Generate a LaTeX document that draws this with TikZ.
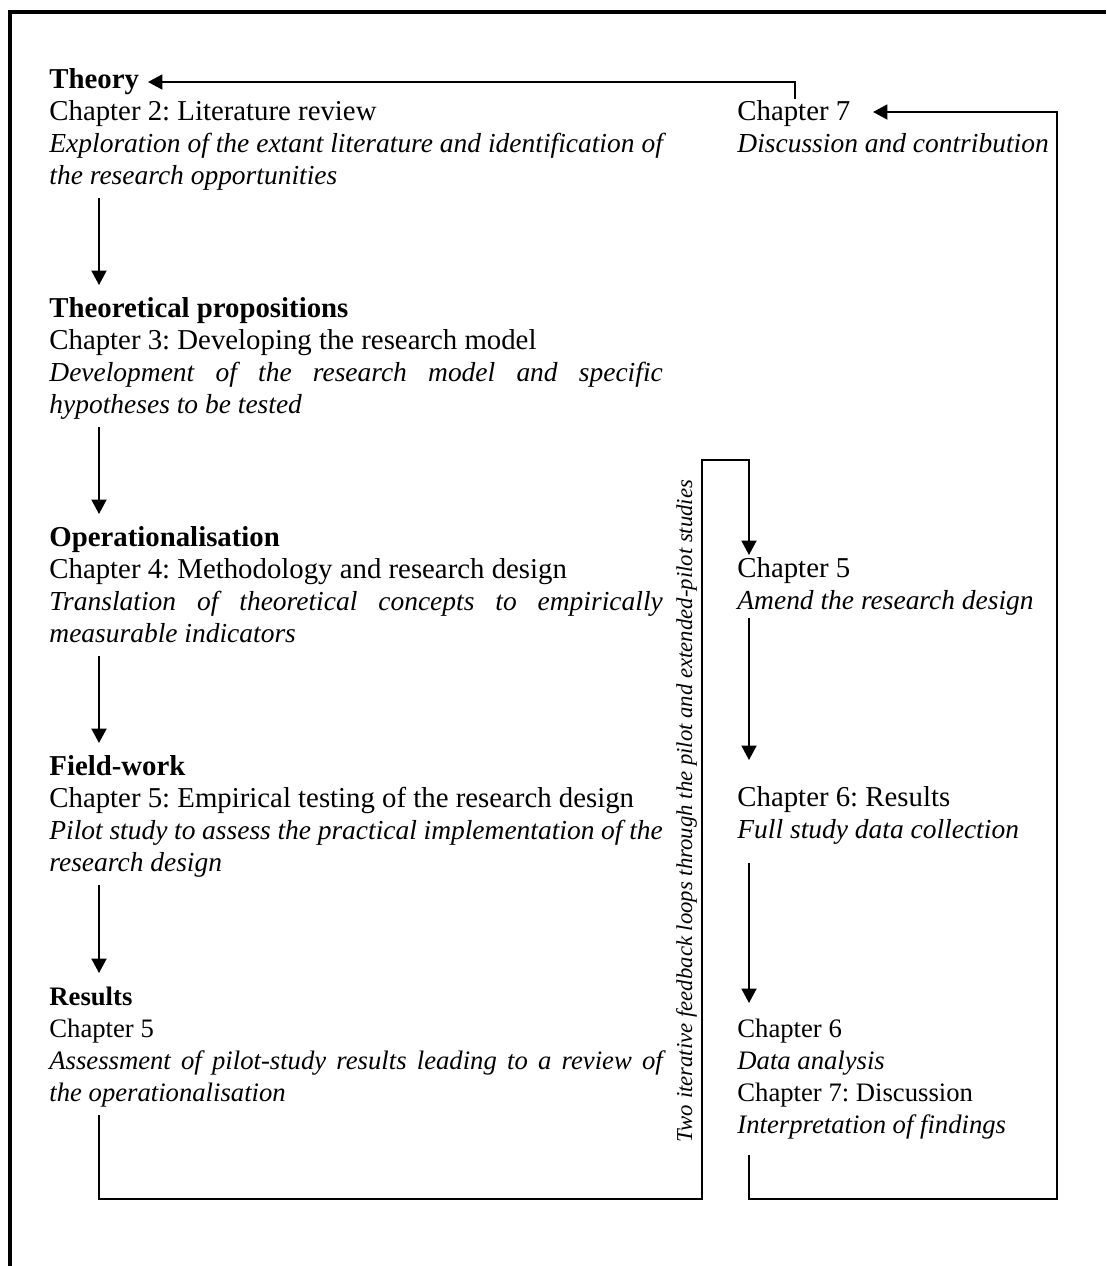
\documentclass[tikz,border=0pt]{standalone}
\usepackage{fontspec}
\setmainfont{Liberation Serif}[Scale=1.08]
% narrower cut for the italic description lines
\newfontfamily\descfont{Liberation Serif}[Scale=1.03]
\newfontfamily\termes{Liberation Serif}
\usepackage{graphicx}
\usetikzlibrary{arrows.meta,calc}
\frenchspacing

% width of the justified text column on the left
\newcommand\blockw{276pt}
% one justified (stretched) line of the column
\newcommand\fullline[1]{\makebox[\blockw][s]{#1}}
% italic description text
\newcommand\desc{\descfont\itshape}

\begin{document}
\begin{tikzpicture}[x=0.45pt,y=-0.45pt,
  txt/.style={inner sep=0pt, anchor=base west, font=\fontsize{12}{14.4}\selectfont},
  conn/.style={line width=0.85pt},
  arr/.style={conn, -{Triangle[width=6.75pt,length=6.5pt]}},
  frameline/.style={line width=1.8pt}]

\useasboundingbox (0,0) rectangle (1106,1266);

% open frame: left and top edges
\draw[frameline] (10,1266) -- (10,12) -- (1106,12);

% ---- left column: the five stages ----
\node[txt] (b1) at (49,88) {\parbox[t]{\blockw}{\textbf{Theory}\\
  Chapter 2: Literature review\\
  \desc\fullline{Exploration of the extant literature and identification of}\\
  the research opportunities}};

\node[txt] (b2) at (49,317) {\parbox[t]{\blockw}{\textbf{Theoretical propositions}\\
  Chapter 3: Developing the research model\\
  \desc\fullline{Development of the research model and specific}\\
  hypotheses to be tested}};

\node[txt] (b3) at (49,546) {\parbox[t]{\blockw}{\textbf{Operationalisation}\\
  Chapter 4: Methodology and research design\\
  \desc\fullline{Translation of theoretical concepts to empirically}\\
  measurable indicators}};

\node[txt] (b4) at (49,775) {\parbox[t]{\blockw}{\textbf{Field-work}\\
  Chapter 5: Empirical testing of the research design\\
  \desc\fullline{Pilot study to assess the practical implementation of the}\\
  research design}};

\node[txt] (b5) at (49,1005) {\parbox[t]{\blockw}{\termes\textbf{Results}\\
  Chapter 5\\
  \itshape\fullline{Assessment of pilot-study results leading to a review of}\\
  the operationalisation}};

% ---- right column ----
\node[txt] (c7) at (737,120) {\parbox[t]{200pt}{Chapter 7\\
  \desc Discussion and contribution}};
\node[txt] (c5) at (737,577) {\parbox[t]{200pt}{Chapter 5\\
  \desc Amend the research design}};
\node[txt] (c6) at (737,806) {\parbox[t]{200pt}{Chapter 6: Results\\
  \desc Full study data collection}};
\node[txt] (c67) at (737,1037) {\parbox[t]{200pt}{\termes Chapter 6\\
  \textit{Data analysis}\\
  Chapter 7: Discussion\\
  \textit{Interpretation of findings}}};

% feedback-loop caption, set vertically
\node[rotate=90, anchor=base, inner sep=0pt] (loopnote) at (692,811)
  {\resizebox{298pt}{!}{\desc Two iterative feedback loops through the pilot and extended-pilot studies}};

% ---- downward flow on the left ----
\draw[arr] ($(b1.base west)+(50,110)$) -- ($(b2.base west)+(50,-32)$);
\draw[arr] ($(b2.base west)+(50,110)$) -- ($(b3.base west)+(50,-32)$);
\draw[arr] ($(b3.base west)+(50,110)$) -- ($(b4.base west)+(50,-32)$);
\draw[arr] ($(b4.base west)+(50,110)$) -- ($(b5.base west)+(50,-32)$);

% ---- downward flow on the right ----
\draw[arr] ($(c5.base west)+(12,41)$) -- ($(c6.base west)+(12,-46)$);
\draw[arr] ($(c6.base west)+(12,57)$) -- ($(c67.base west)+(12,-34)$);

% ---- first loop: results back to the amended design ----
\coordinate (loopAbot) at (702,1199);
\coordinate (loopAtop) at (702,460);
\draw[arr] ($(b5.base west)+(50,110)$) |- (loopAbot) -- (loopAtop)
  -| ($(c5.base west)+(12,-22)$);

% ---- second loop: findings up to the discussion chapter ----
\coordinate (loopBbot) at (1057,1199);
\coordinate (loopBtop) at (1057,112);
\draw[arr] ($(c67.base west)+(12,118)$) |- (loopBbot) -- (loopBtop)
  -- ($(c7.base west)+(136,-8)$);

% ---- discussion back to theory ----
\draw[arr] ($(c7.base west)+(58,-21)$) |- ($(b1.base west)+(99,-6)$);

\end{tikzpicture}
\end{document}
